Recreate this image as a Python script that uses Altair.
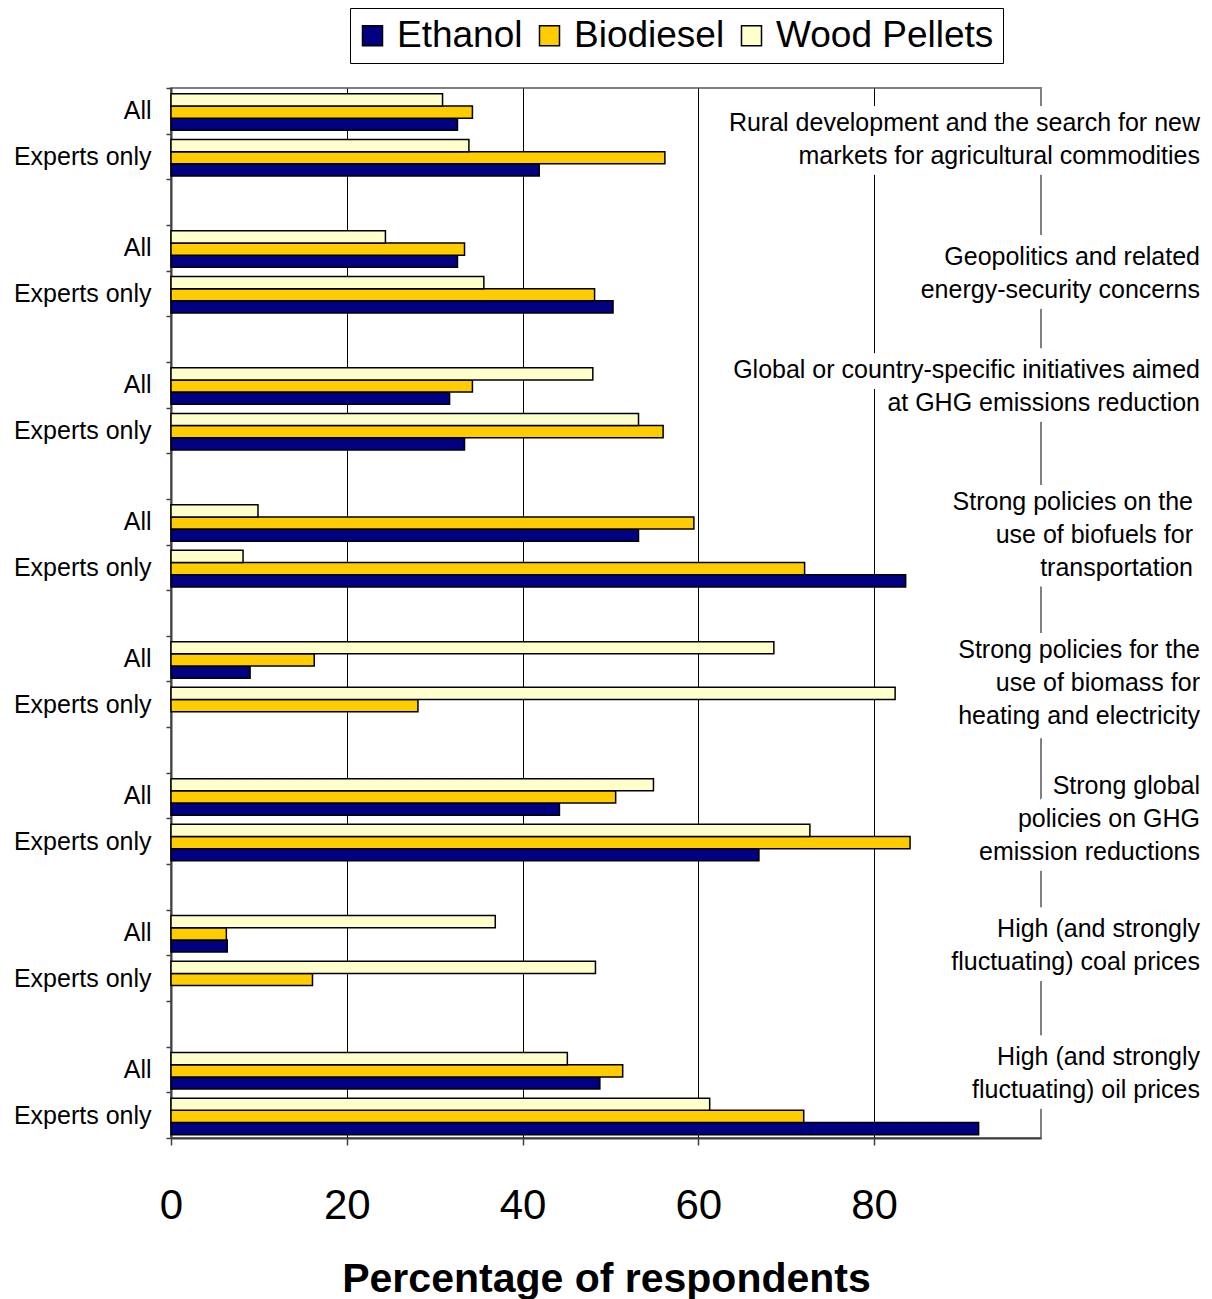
import altair as alt
import pandas as pd

# Fuel series (legend order) and their fills
fuels = ["Ethanol", "Biodiesel", "Wood Pellets"]
fuel_colors = ["#000080", "#FFCC00", "#FFFFCC"]

# Respondent subsets shown for every driver
subsets = ["All", "Experts only"]

# Drivers of bioenergy trade, top to bottom
drivers = [
    "Rural development and the search for new\nmarkets for agricultural commodities",
    "Geopolitics and related\nenergy-security concerns",
    "Global or country-specific initiatives aimed\nat GHG emissions reduction",
    "Strong policies on the\nuse of biofuels for\ntransportation",
    "Strong policies for the\nuse of biomass for\nheating and electricity",
    "Strong global\npolicies on GHG\nemission reductions",
    "High (and strongly\nfluctuating) coal prices",
    "High (and strongly\nfluctuating) oil prices",
]

# Percentage of respondents, one value per driver
ethanol_all = [32.6, 32.6, 31.7, 53.2, 9.0, 44.2, 6.4, 48.8]
ethanol_experts = [41.9, 50.3, 33.4, 83.6, 0.0, 66.9, 0.0, 91.9]
biodiesel_all = [34.3, 33.4, 34.3, 59.5, 16.3, 50.6, 6.3, 51.4]
biodiesel_experts = [56.2, 48.2, 56.0, 72.1, 28.1, 84.1, 16.1, 72.0]
pellets_all = [30.9, 24.4, 48.0, 9.9, 68.6, 54.9, 36.9, 45.1]
pellets_experts = [33.9, 35.6, 53.2, 8.2, 82.4, 72.7, 48.3, 61.3]

x_ticks = [0, 20, 40, 60, 80]

# Row slots: "All", "Experts only", then an empty spacer between drivers
rows = []
for i in range(len(drivers)):
    rows += [f"{i}|All", f"{i}|Experts only"]
    if i < len(drivers) - 1:
        rows.append(f"{i}|")

series = {
    ("Ethanol", "All"): ethanol_all,
    ("Ethanol", "Experts only"): ethanol_experts,
    ("Biodiesel", "All"): biodiesel_all,
    ("Biodiesel", "Experts only"): biodiesel_experts,
    ("Wood Pellets", "All"): pellets_all,
    ("Wood Pellets", "Experts only"): pellets_experts,
}
records = []
for (fuel, subset), values in series.items():
    for i, v in enumerate(values):
        records.append({"row": f"{i}|{subset}", "fuel": fuel, "value": v})
bars_df = pd.DataFrame(records)

FONT = "Liberation Sans"
W, H = 870, 1050
LINE_H = 33

y_scale = alt.Scale(domain=rows, paddingInner=0, paddingOuter=0)
y_axis = alt.Axis(
    title=None,
    labelExpr="split(datum.value, '|')[1]",
    tickBand="extent",
    tickSize=5,
    tickColor="#404040",
    tickWidth=1.5,
    domainColor="#404040",
    domainWidth=2,
    labelFont=FONT,
    labelFontSize=25,
    labelColor="black",
    labelPadding=15,
    grid=False,
)

bars = (
    alt.Chart(bars_df)
    .transform_filter("datum.value > 0")
    .mark_bar(stroke="black", strokeWidth=1.5)
    .encode(
        x=alt.X(
            "value:Q",
            scale=alt.Scale(domain=[0, 99], nice=False),
            axis=alt.Axis(
                values=x_ticks,
                title="Percentage of respondents",
                titleFont=FONT,
                titleFontSize=41,
                titleFontWeight="bold",
                titleColor="black",
                titleBaseline="alphabetic",
                titleY=153,
                labelFont=FONT,
                labelFontSize=42,
                labelColor="black",
                labelPadding=40,
                labelFlush=False,
                labelOverlap=False,
                tickSize=7,
                tickColor="#404040",
                tickWidth=1.5,
                domainColor="#404040",
                domainWidth=2,
                grid=True,
                gridColor="black",
                gridWidth=1,
                gridOpacity=1,
            ),
        ),
        y=alt.Y("row:N", scale=y_scale, sort=rows, axis=y_axis),
        yOffset=alt.YOffset(
            "fuel:N",
            sort=["Wood Pellets", "Biodiesel", "Ethanol"],
            scale=alt.Scale(paddingInner=0, paddingOuter=0.375, align=0.64),
        ),
        color=alt.Color(
            "fuel:N",
            scale=alt.Scale(domain=fuels, range=fuel_colors),
            legend=alt.Legend(
                orient="none",
                legendX=179,
                legendY=-80,
                direction="horizontal",
                title=None,
                labelFont=FONT,
                labelFontSize=37,
                labelColor="black",
                labelLimit=500,
                labelOffset=6,
                columnPadding=13,
                symbolType="square",
                symbolSize=400,
                symbolOffset=-5,
                symbolStrokeColor="black",
                symbolStrokeWidth=1.5,
                symbolOpacity=1,
                padding=9,
                strokeColor="black",
                fillColor="white",
            ),
        ),
    )
)

# Driver captions on the right, each with a white halo that breaks the lines beneath
caption_dx = [0, 0, 0, -7, 0, 0, 0, 0]
caption_dy = [6, 3, -21, -10, 2, 1, -10, -19]

layers = [bars]
for i, text in enumerate(drivers):
    n_lines = text.count("\n") + 1
    cap = pd.DataFrame([{"row": f"{i}|Experts only", "label": text}])
    base = alt.Chart(cap).encode(
        y=alt.Y("row:N", scale=y_scale, sort=rows, bandPosition=0, axis=y_axis),
        x=alt.value(W + 159),
        text="label:N",
    )
    common = dict(
        align="right",
        baseline="middle",
        font=FONT,
        fontSize=25,
        lineBreak="\n",
        lineHeight=LINE_H,
        dx=caption_dx[i],
        dy=caption_dy[i] - (n_lines - 1) * LINE_H / 2,
    )
    halo = base.mark_text(
        color="white", stroke="white", strokeWidth=22, strokeJoin="round", **common
    )
    label = base.mark_text(color="black", **common)
    layers += [halo, label]

chart = (
    alt.layer(*layers)
    .properties(
        width=W,
        height=H,
        autosize=alt.AutoSizeParams(type="none"),
        padding={"left": 171, "top": 88, "right": 171, "bottom": 161},
        background="white",
    )
    .configure_view(stroke="#808080", strokeWidth=2)
)

chart.save("out.html", embed_options={"renderer": "svg", "actions": False})
